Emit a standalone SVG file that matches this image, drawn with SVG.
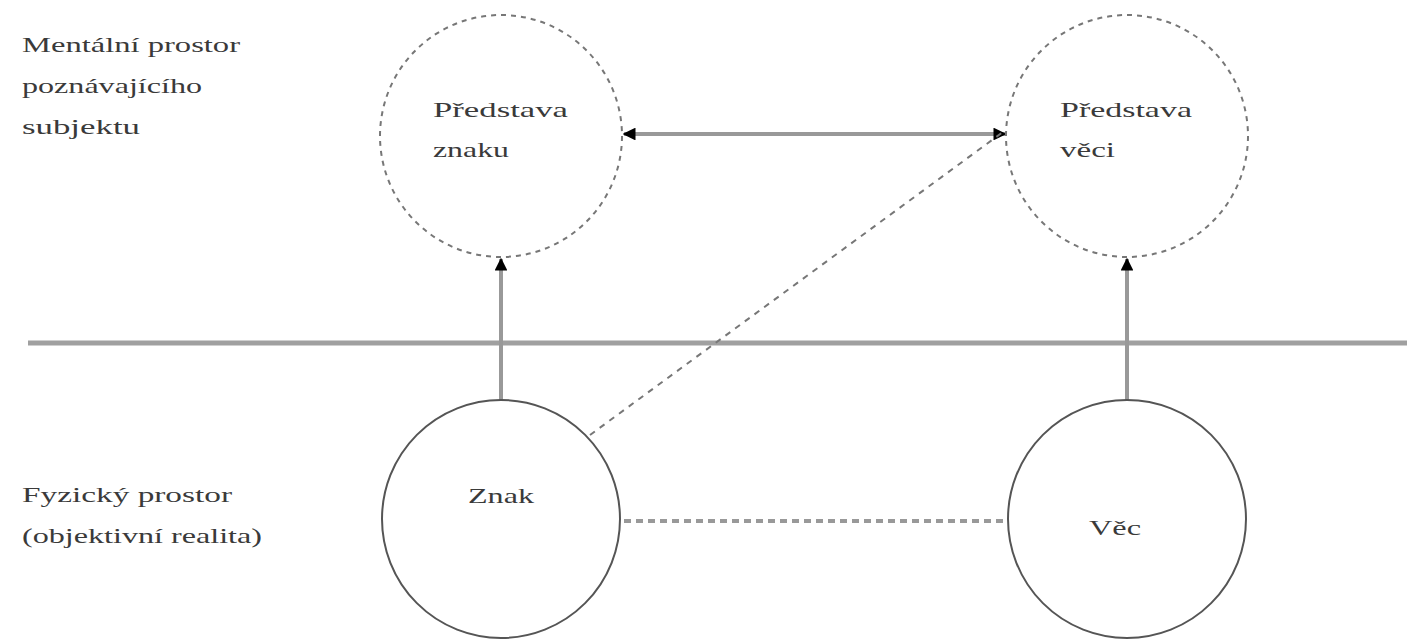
<svg xmlns="http://www.w3.org/2000/svg" width="1407" height="640" viewBox="0 0 1407 640">
<style>
text{font-family:"Liberation Serif","Times New Roman",serif;font-size:21px;fill:#3a3a3a}
.dc{fill:none;stroke:#777;stroke-width:2;stroke-dasharray:5 5}
.sc{fill:none;stroke:#555;stroke-width:2}
.ar{stroke:#999;stroke-width:4;fill:none}
</style>
<defs>
<marker id="ah" viewBox="0 0 10 10" refX="9" refY="5" markerWidth="3.2" markerHeight="3.2" orient="auto-start-reverse" markerUnits="strokeWidth">
<path d="M0,0 L10,5 L0,10 z" fill="#000"/>
</marker>
</defs>
<rect width="1407" height="640" fill="#fff"/>
<g id="labels">
<text x="22" y="52" textLength="218" lengthAdjust="spacingAndGlyphs">Mentální prostor</text>
<text x="22" y="93" textLength="180" lengthAdjust="spacingAndGlyphs">poznávajícího</text>
<text x="22" y="134" textLength="118" lengthAdjust="spacingAndGlyphs">subjektu</text>
<text x="22" y="502" textLength="210" lengthAdjust="spacingAndGlyphs">Fyzický prostor</text>
<text x="22" y="543" textLength="240" lengthAdjust="spacingAndGlyphs">(objektivní realita)</text>
</g>
<g id="divider"><line x1="28" y1="343" x2="1407" y2="343" stroke="#a0a0a0" stroke-width="5"/></g>
<g id="connectors">
<line class="ar" x1="501" y1="400" x2="501" y2="259" marker-end="url(#ah)"/>
<line class="ar" x1="1127" y1="400" x2="1127" y2="259" marker-end="url(#ah)"/>
<line class="ar" x1="624" y1="134" x2="1005" y2="134" marker-start="url(#ah)" marker-end="url(#ah)"/>
<line x1="590" y1="435" x2="1003" y2="132" stroke="#777" stroke-width="2" stroke-dasharray="6 6"/>
<line x1="624" y1="521" x2="1006" y2="521" stroke="#999" stroke-width="4" stroke-dasharray="7 5"/>
</g>
<g id="predstava-znaku">
<circle class="dc" cx="501" cy="136" r="121"/>
<text x="433" y="117" textLength="135" lengthAdjust="spacingAndGlyphs">Představa</text>
<text x="433" y="157" textLength="76" lengthAdjust="spacingAndGlyphs">znaku</text>
</g>
<g id="predstava-veci">
<circle class="dc" cx="1127" cy="136" r="121"/>
<text x="1060" y="117" textLength="132" lengthAdjust="spacingAndGlyphs">Představa</text>
<text x="1060" y="157" textLength="55" lengthAdjust="spacingAndGlyphs">věci</text>
</g>
<g id="znak">
<circle class="sc" cx="501" cy="519" r="119"/>
<text x="468" y="503" textLength="66" lengthAdjust="spacingAndGlyphs">Znak</text>
</g>
<g id="vec">
<circle class="sc" cx="1127" cy="519" r="119"/>
<text x="1089" y="535" textLength="52" lengthAdjust="spacingAndGlyphs">Věc</text>
</g>
</svg>
